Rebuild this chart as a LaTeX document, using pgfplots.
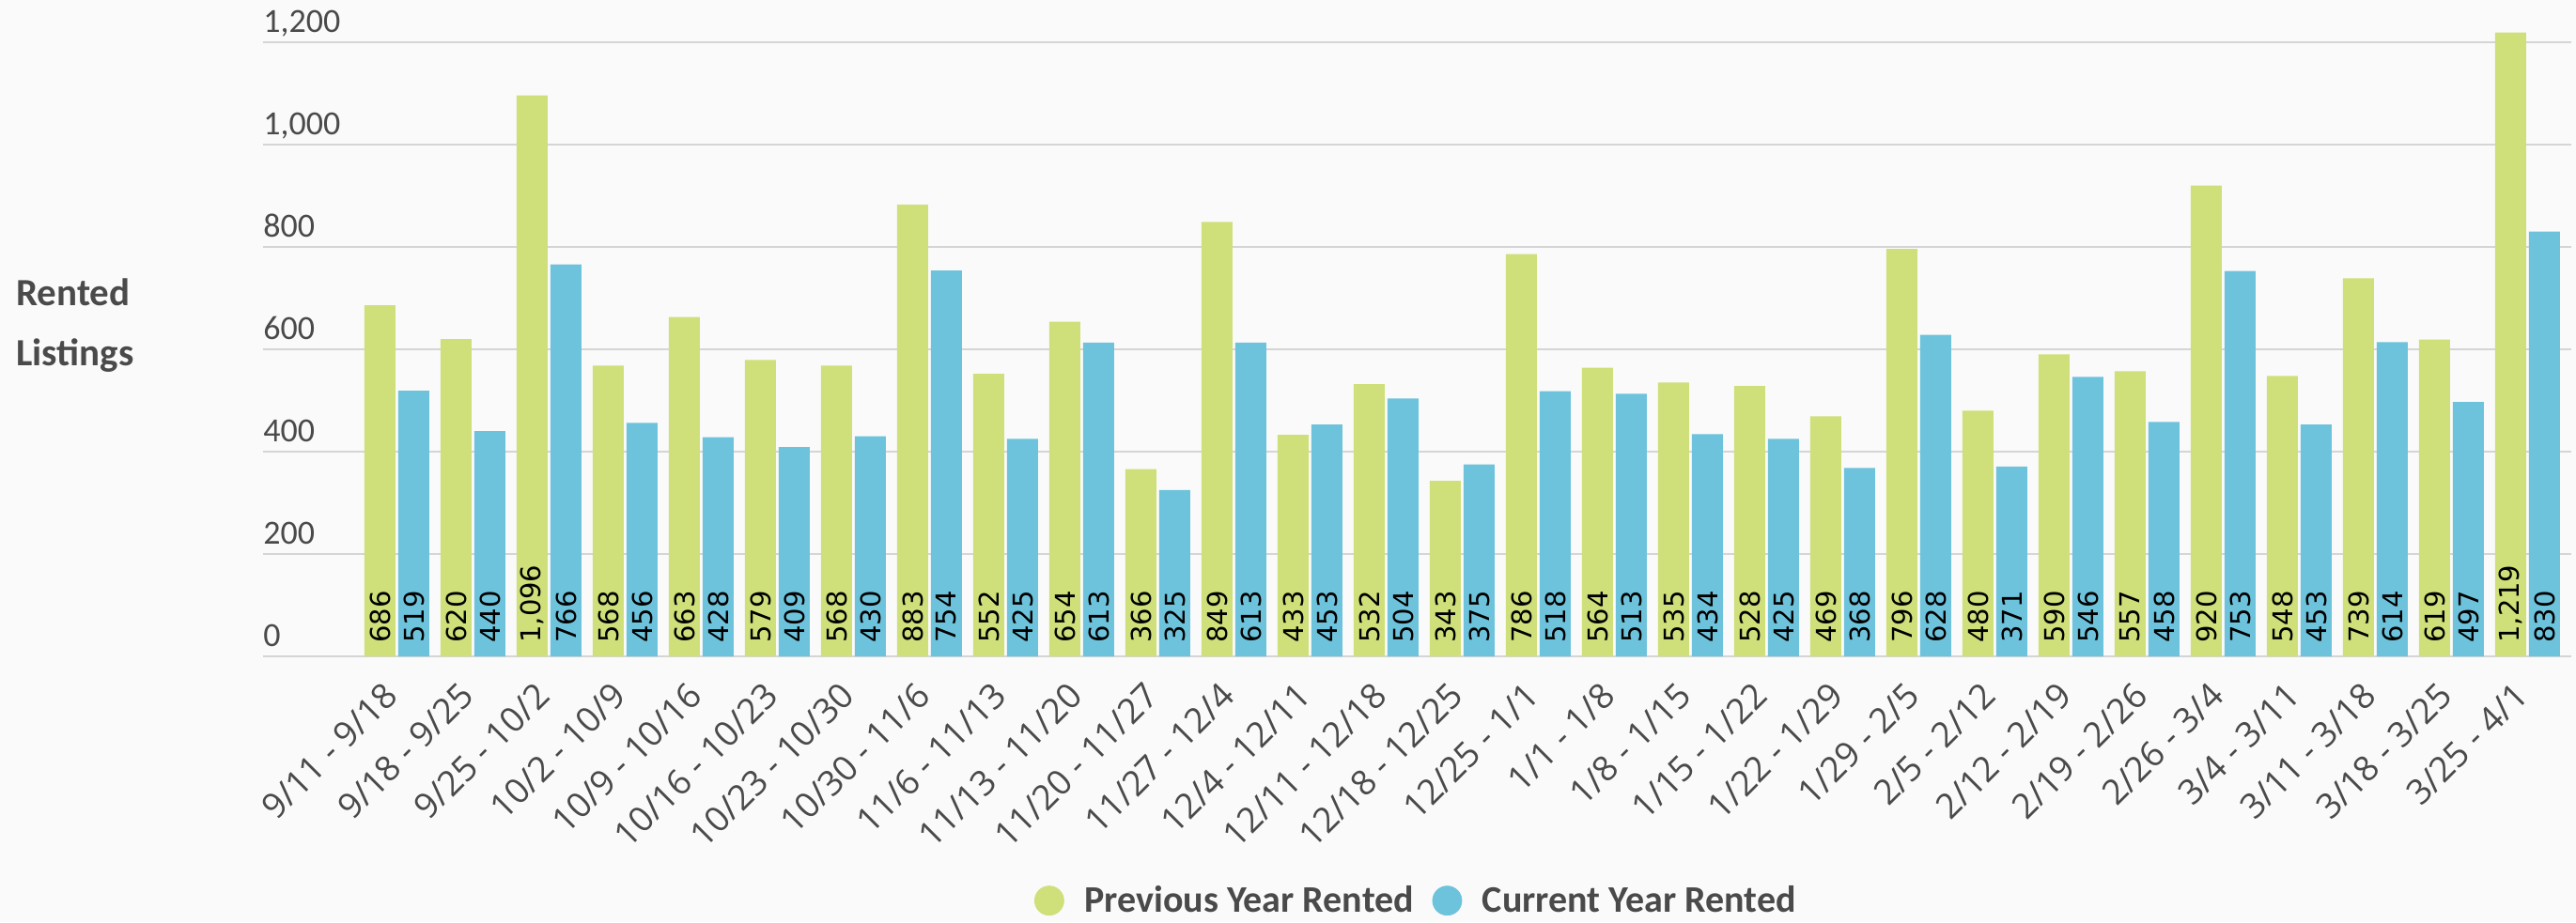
\documentclass[border=0pt]{standalone}
\usepackage{fontspec}
\setmainfont{Carlito}
\newfontfamily\dejavu{DejaVu Sans}
\newfontfamily\opensans{Open Sans}
\usepackage{pgfplots}
\usepackage{pgfplotstable}
\pgfplotsset{compat=1.18}
\usetikzlibrary{backgrounds}
\definecolor{prevc}{HTML}{CFDF79}
\definecolor{curc}{HTML}{6EC3DC}
\definecolor{bgc}{HTML}{FAFAFA}
\definecolor{gridc}{HTML}{D5D5D5}
\definecolor{txt}{HTML}{4A4A4A}

\pgfplotstableread{
idx prev cur
0 686 519
1 620 440
2 1096 766
3 568 456
4 663 428
5 579 409
6 568 430
7 883 754
8 552 425
9 654 613
10 366 325
11 849 613
12 433 453
13 532 504
14 343 375
15 786 518
16 564 513
17 535 434
18 528 425
19 469 368
20 796 628
21 480 371
22 590 546
23 557 458
24 920 753
25 548 453
26 739 614
27 619 497
28 1219 830
}\datatable

\begin{document}
\begin{tikzpicture}
\begin{axis}[
  name=ax,
  scale only axis,
  width=1228.5pt, height=337.9pt,
  xmin=-1.759, xmax=28.574, ymin=0, ymax=1240,
  axis line style={draw=none},
  major tick length=0pt,
  ytick={0,200,...,1200},
  ymajorgrids,
  grid style={gridc, line width=1.3pt},
  xtick={0,...,28},
  xticklabels={9/11 - 9/18, 9/18 - 9/25, 9/25 - 10/2, 10/2 - 10/9, 10/9 - 10/16, 10/16 - 10/23, 10/23 - 10/30, 10/30 - 11/6, 11/6 - 11/13, 11/13 - 11/20, 11/20 - 11/27, 11/27 - 12/4, 12/4 - 12/11, 12/11 - 12/18, 12/18 - 12/25, 12/25 - 1/1, 1/1 - 1/8, 1/8 - 1/15, 1/15 - 1/22, 1/22 - 1/29, 1/29 - 2/5, 2/5 - 2/12, 2/12 - 2/19, 2/19 - 2/26, 2/26 - 3/4, 3/4 - 3/11, 3/11 - 3/18, 3/18 - 3/25, 3/25 - 4/1},
  /pgf/number format/.cd, 1000 sep={,}, assume math mode=true, /pgfplots/.cd,
  yticklabel style={anchor=base west, inner sep=0pt, yshift=5.5pt, font=\fontsize{18}{18}\selectfont, text=txt},
  xticklabel style={xshift=-8pt, yshift=-8pt, rotate=45, anchor=north east, font=\opensans\fontsize{18.5}{18.5}\selectfont, text=txt},
  ylabel={Rented\\Listings},
  every axis y label/.style={at={(axis description cs:-0.10704,0.5963)}, anchor=north west, align=left, inner sep=0pt, font=\bfseries\fontsize{20.5}{32}\selectfont, text=txt},
  clip=false,
  legend columns=2,
  legend style={at={(axis description cs:0.5,-0.385)}, anchor=center, draw=none, fill=none, font=\bfseries\fontsize{20}{20}\selectfont, text=txt,
    /tikz/every odd column/.append style={column sep=9pt},
    /tikz/every even column/.append style={column sep=8pt}},
  legend cell align=left,
]
\addlegendimage{only marks, mark=*, mark size=7.75pt, color=prevc, mark options={draw=prevc, fill=prevc}}
\addlegendentry{Previous Year Rented}
\addlegendimage{only marks, mark=*, mark size=7.75pt, color=curc, mark options={draw=curc, fill=curc}}
\addlegendentry{Current Year Rented}

\addplot[ybar, bar width=16.5pt, bar shift=-9pt, fill=prevc, draw=none, forget plot,
  visualization depends on={rawy \as \rawy},
  nodes near coords,
  every node near coord/.append style={xshift=-9pt, yshift={7pt-\rawy*0.2725pt}, rotate=90, anchor=west, inner sep=0pt, font=\dejavu\fontsize{14.5}{14.5}\selectfont, text=black}]
  table[x=idx, y=prev] {\datatable};
\addplot[ybar, bar width=16.5pt, bar shift=9pt, fill=curc, draw=none, forget plot,
  visualization depends on={rawy \as \rawy},
  nodes near coords,
  every node near coord/.append style={xshift=9pt, yshift={7pt-\rawy*0.2725pt}, rotate=90, anchor=west, inner sep=0pt, font=\dejavu\fontsize{14.5}{14.5}\selectfont, text=black}]
  table[x=idx, y=cur] {\datatable};
\end{axis}
\begin{scope}[on background layer]
\fill[bgc] ([shift={(-140pt,-141.5pt)}]ax.south west) rectangle ([shift={(1231pt,349.5pt)}]ax.south west);
\end{scope}
\pgfresetboundingbox
\path[use as bounding box] ([shift={(-140pt,-141.5pt)}]ax.south west) rectangle ([shift={(1231pt,349.5pt)}]ax.south west);
\end{tikzpicture}
\end{document}
